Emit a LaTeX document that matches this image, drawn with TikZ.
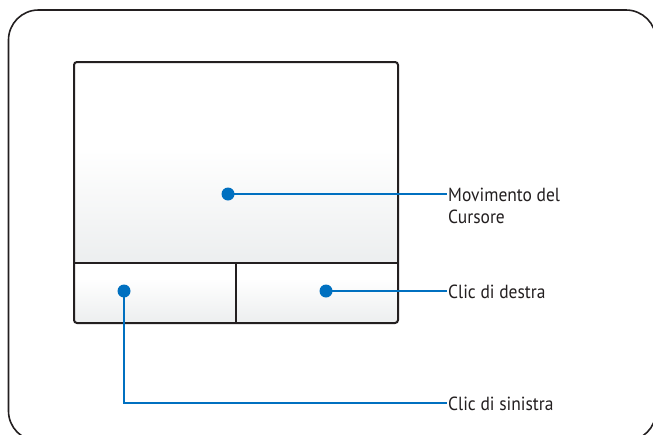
\documentclass[tikz,border=0pt]{standalone}
\usepackage{fontspec}
\setmainfont[FakeStretch=0.92]{PT Sans}
\definecolor{ink}{HTML}{231F20}
\definecolor{pblue}{HTML}{0070C0}
\definecolor{padgray}{HTML}{ECEEEF}
\tikzset{
  frame/.style={draw=ink, line width=1.6pt, rounded corners=30pt},
  padline/.style={draw=ink, line width=2pt},
  callout/.style={draw=pblue, line width=2.3pt},
  dot/.style={circle, fill=pblue, inner sep=0pt, minimum size=13pt},
  lbl/.style={anchor=base west, inner sep=0pt, text=ink, align=left, font=\fontsize{19}{21.7}\selectfont},
}
\begin{document}
\begin{tikzpicture}[x=1pt,y=-1pt]
\useasboundingbox (0,0) rectangle (653,434);
\clip (0,0) rectangle (653,434);
\fill[white] (0,0) rectangle (653,434);
% outer frame
\draw[frame] (8.5,10) rectangle (656,441);
% touchpad fill
\begin{scope}
  \clip[rounded corners=3pt] (74,62) rectangle (398,323);
  \fill[white] (74,62) rectangle (398,323);
  \shade[top color=white, bottom color=padgray] (74,150) rectangle (398,263);
  \shade[top color=white, bottom color=padgray] (74,278) rectangle (398,323);
\end{scope}
\draw[padline, rounded corners=3pt] (74,62) rectangle (398,323);
\draw[padline] (74,263) -- (398,263);
\draw[padline] (236,263) -- (236,323);
% dots
\node[dot] (dm) at (228,194) {};
\node[dot] (dl) at (124,291) {};
\node[dot] (dr) at (326,291) {};
% label anchors
\coordinate (cm) at (447,194);
\coordinate (cr) at (447,291);
\coordinate (cl) at (447,403);
\coordinate (corner) at (124,403);
\node[lbl] (lm) at (448,223.2) {Movimento del\\Cursore};
\node[lbl] (lr) at (448,298) {Clic di destra};
\node[lbl] (ll) at (448,410) {Clic di sinistra};
% connectors
\draw[callout] (dm.center) -- (cm);
\draw[callout] (dr.center) -- (cr);
\draw[callout] (dl.center) -- (corner) -- (cl);
\end{tikzpicture}
\end{document}
